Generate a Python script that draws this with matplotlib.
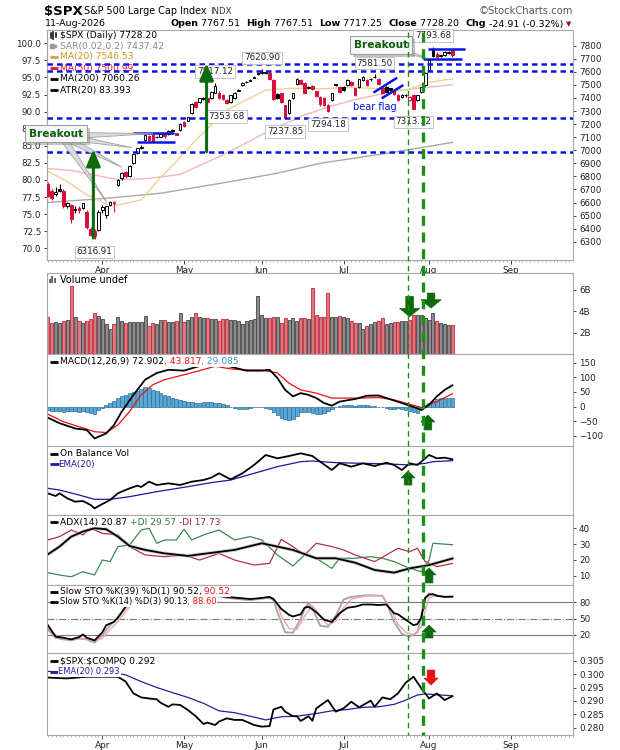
import numpy as np
import pandas as pd
import matplotlib
matplotlib.use("Agg")
import matplotlib.pyplot as plt
import matplotlib.patheffects as pe
from matplotlib.lines import Line2D
from matplotlib.ticker import FormatStrFormatter

plt.rcParams["font.family"] = ["DejaVu Sans"]
W, H = 620, 750

# ---- daily candles, index 0 = 12-Mar-2026 ----
opens = [6740, 6690, 6662, 6700, 6688, 6575, 6580, 6540, 6555, 6560,
         6530, 6400, 6385, 6390, 6543, 6505, 6581, 6595, 6734, 6785,
         6836, 6800, 6900, 6977, 7020, 7078, 7109, 7117, 7098, 7104,
         7125, 7125, 7148, 7130, 7155, 7219, 7226, 7282, 7372, 7372,
         7395, 7397, 7397, 7440, 7440, 7425, 7384, 7372, 7397, 7455,
         7499, 7520, 7532, 7556, 7582, 7590, 7592, 7594, 7537, 7432,
         7435, 7346, 7282, 7397, 7507, 7540, 7512, 7480, 7490, 7450,
         7410, 7400, 7346, 7384, 7505, 7481, 7486, 7499, 7525, 7474,
         7486, 7537, 7537, 7548, 7560, 7543, 7474, 7486, 7474, 7450,
         7423, 7410, 7423, 7384, 7423, 7384, 7448, 7499, 7614, 7767,
         7740, 7722, 7729, 7745, 7767.51]
highs = [6755, 6700, 6720, 6745, 6700, 6605, 6590, 6570, 6575, 6600,
         6540, 6410, 6395, 6540, 6580, 6575, 6612, 6615, 6780, 6830,
         6842, 6890, 6975, 7020, 7040, 7122, 7115, 7125, 7110, 7130,
         7130, 7152, 7162, 7135, 7210, 7225, 7258, 7360, 7380, 7402,
         7408, 7405, 7452, 7517.12, 7450, 7430, 7390, 7425, 7445, 7468,
         7520, 7530, 7542, 7568, 7592, 7620.90, 7605, 7600, 7545, 7440,
         7440, 7350, 7390, 7440, 7550, 7548, 7520, 7495, 7498, 7455,
         7418, 7405, 7352, 7440, 7510, 7490, 7495, 7542, 7530, 7480,
         7548, 7568, 7545, 7555, 7581.50, 7550, 7480, 7492, 7480, 7458,
         7430, 7428, 7432, 7415, 7430, 7425, 7485, 7598, 7695, 7793.68,
         7752, 7738, 7760, 7762, 7767.51]
lows = [6640, 6620, 6650, 6680, 6560, 6560, 6445, 6520, 6520, 6550,
        6400, 6345, 6316.91, 6380, 6520, 6480, 6570, 6530, 6728, 6775,
        6790, 6795, 6895, 6970, 7010, 7070, 7072, 7060, 7090, 7100,
        7095, 7120, 7140, 7115, 7150, 7175, 7220, 7275, 7322, 7365,
        7385, 7365, 7390, 7435, 7395, 7385, 7353.68, 7365, 7390, 7450,
        7495, 7515, 7528, 7550, 7578, 7585, 7585, 7540, 7385, 7395,
        7365, 7237.85, 7275, 7390, 7500, 7505, 7435, 7470, 7462, 7405,
        7340, 7335, 7294.18, 7380, 7490, 7440, 7455, 7495, 7495, 7418,
        7480, 7532, 7495, 7530, 7552, 7500, 7430, 7445, 7455, 7420,
        7380, 7400, 7405, 7375, 7313.12, 7375, 7440, 7495, 7608, 7710,
        7705, 7712, 7722, 7738, 7717.25]
closes = [6650, 6635, 6680, 6690, 6570, 6594, 6470, 6552, 6545, 6594,
          6415, 6352, 6340, 6530, 6568, 6572, 6607, 6605, 6773, 6824,
          6800, 6880, 6969, 7015, 7027, 7117, 7078, 7066, 7104, 7125,
          7108, 7148, 7155, 7120, 7200, 7185, 7252, 7354, 7328, 7397,
          7399, 7372, 7448, 7492, 7397, 7390, 7362, 7420, 7440, 7461,
          7517, 7525, 7537, 7563, 7588, 7596, 7600, 7543, 7390, 7400,
          7372, 7250, 7384, 7435, 7543, 7510, 7440, 7486, 7470, 7415,
          7354, 7346, 7300, 7435, 7499, 7448, 7461, 7537, 7499, 7423,
          7543, 7563, 7499, 7543, 7563, 7507, 7435, 7448, 7461, 7428,
          7384, 7420, 7425, 7410, 7318, 7420, 7481, 7594, 7690, 7718,
          7716, 7730, 7750, 7753.11, 7728.20]
volume_b = [3.5, 2.9, 3.0, 2.9, 3.1, 3.2, 6.4, 3.5, 3.1, 2.9,
            3.1, 3.3, 3.8, 3.6, 3.3, 2.8, 2.4, 2.8, 3.5, 3.1,
            2.9, 3.0, 3.0, 3.0, 3.0, 3.6, 2.6, 2.9, 2.8, 3.2,
            3.2, 3.0, 3.0, 3.1, 3.8, 3.0, 3.2, 3.5, 3.8, 3.5,
            3.4, 3.4, 3.3, 3.3, 3.1, 3.3, 3.3, 3.2, 3.2, 3.1,
            2.8, 3.1, 3.2, 3.3, 5.4, 3.7, 3.4, 3.4, 3.5, 3.5,
            2.9, 3.4, 3.2, 3.4, 3.1, 3.4, 3.4, 3.3, 6.2, 3.7,
            3.5, 3.5, 5.7, 3.5, 3.5, 3.6, 3.5, 3.4, 3.1, 2.9,
            2.9, 2.4, 2.6, 2.8, 3.0, 3.1, 3.4, 2.8, 2.9, 3.0,
            3.0, 3.1, 3.1, 3.2, 3.7, 3.7, 3.7, 3.4, 3.2, 3.8,
            3.1, 2.9, 2.8, 2.7, 2.7]

# overlays as (bar index, value)
ma20 = [(0, 6840), (5, 6760), (10, 6660), (15, 6590), (18, 6581), (24, 6620),
        (28, 6760), (33, 6913), (38, 7078), (46, 7308), (56, 7461), (63, 7474),
        (70, 7470), (78, 7480), (86, 7470), (92, 7460), (98, 7520), (104, 7546.53)]
ma50 = [(0, 6860), (6, 6845), (12, 6810), (18, 6775), (24, 6780), (29, 6795),
        (34, 6815), (38, 6870), (44, 6950), (50, 7040), (55, 7120), (60, 7190),
        (66, 7270), (72, 7330), (78, 7380), (84, 7420), (90, 7455), (96, 7478),
        (104, 7500.99)]
ma200 = [(0, 6600), (15, 6632), (29, 6671), (45, 6750), (59, 6824), (70, 6900),
         (89, 6985), (104, 7060.26)]

macd = [(0, -38), (3, -57), (7, -75), (10, -80), (12, -109), (15, -92), (17, -63),
        (19, -17), (22, 40), (25, 92), (28, 115), (31, 126), (35, 123), (38, 135),
        (42, 150), (46, 140), (51, 123), (55, 123), (57, 126), (59, 98), (61, 57),
        (63, 35), (65, 46), (67, 40), (69, 29), (71, 12), (73, 3), (75, 17),
        (79, 26), (82, 37), (85, 38), (88, 25), (91, 12), (95, -6), (96, -12),
        (98, 6), (100, 35), (102, 57), (104, 72.9)]
macd_signal = [(0, -26), (4, -52), (8, -69), (12, -86), (15, -89), (18, -63),
               (21, -17), (24, 40), (27, 75), (30, 92), (35, 109), (39, 123),
               (43, 138), (47, 129), (51, 125), (55, 125), (59, 115), (62, 80),
               (65, 57), (69, 46), (73, 29), (77, 29), (81, 29), (85, 31), (89, 23),
               (93, 8), (96, -3), (100, 17), (104, 43.8)]
macd_hist = [-12, -14, -15, -16, -18, -15, -14, -16, -18, -15,
             -20, -23, -25, -12, -5, 5, 12, 20, 28, 35,
             40, 45, 50, 55, 60, 66, 64, 58, 52, 46,
             40, 35, 31, 27, 23, 20, 17, 14, 12, 13,
             15, 16, 14, 12, 12, 9, 6, -2, -6, -8,
             -8, -7, -4, -2, -1, -3, -6, -10, -18, -28,
             -38, -44, -46, -42, -32, -20, -17, -18, -21, -24,
             -26, -22, -15, -8, -2, 2, 5, 6, 4, 3,
             5, 6, 5, 3, 2, -1, -3, -6, -8, -7,
             -6, -9, -12, -14, -17, -23, -8, 4, 12, 20,
             26, 29, 31, 30, 29]

obv = [(0, 65), (2, 57), (3, 65), (5, 50), (7, 40), (9, 42), (11, 30), (12, 20),
       (14, 33), (16, 45), (18, 65), (21, 80), (23, 88), (24, 84), (26, 100),
       (28, 90), (31, 95), (34, 90), (37, 100), (40, 105), (42, 112), (44, 125),
       (47, 107), (50, 125), (53, 150), (56, 180), (59, 170), (62, 177), (65, 185),
       (68, 177), (70, 160), (73, 135), (75, 155), (78, 145), (81, 155), (84, 147),
       (87, 157), (89, 150), (91, 135), (93, 155), (95, 150), (98, 180), (100, 170),
       (102, 172), (104, 167)]
obv_ema = [(0, 80), (3, 75), (8, 60), (12, 47), (16, 47), (21, 55), (28, 70),
           (36, 85), (42, 97), (47, 105), (53, 125), (59, 145), (65, 160), (68, 162),
           (74, 157), (81, 155), (88, 153), (93, 150), (97, 155), (99, 160), (104, 163)]

adx = [(0, 23.5), (3, 28.4), (6, 34.7), (9, 37.9), (12, 40), (15, 39.4), (18, 34.7),
       (21, 28.8), (25, 26.3), (30, 24.1), (36, 22.5), (41, 24.1), (48, 26.3),
       (55, 30.5), (59, 28.4), (63, 26.3), (69, 21), (74, 21), (79, 18.2),
       (84, 13.6), (89, 11.9), (93, 14.6), (98, 16.7), (104, 20.87)]
plus_di = [(0, 11.9), (3, 10.4), (6, 9.3), (9, 12.5), (12, 10.4), (14, 19.9),
           (16, 18.9), (18, 28.4), (21, 29.4), (24, 38.9), (26, 40), (28, 30.5),
           (30, 32.6), (33, 32.6), (35, 39.4), (37, 32.6), (40, 35.8), (44, 38.9),
           (48, 32.6), (52, 34.7), (55, 32.6), (59, 23.1), (63, 16.1), (66, 23.1),
           (69, 21), (73, 14.6), (75, 21), (79, 21), (83, 22), (86, 21), (89, 18.9),
           (93, 14.6), (96, 12.5), (98, 19.9), (99, 30.5), (104, 29.57)]
minus_di = [(0, 32.6), (3, 34.7), (6, 38.9), (9, 35.8), (11, 40), (14, 36.8),
            (18, 35.8), (21, 28.4), (25, 23.1), (30, 22), (35, 23.1), (39, 19.9),
            (44, 24.1), (48, 19.9), (53, 16.7), (57, 17.8), (60, 33), (63, 28.4),
            (66, 23.1), (69, 30.5), (73, 28.4), (76, 26.3), (79, 23.1), (84, 18.9),
            (87, 23.1), (90, 27.3), (93, 25.2), (95, 27.3), (97, 18.9), (100, 15.7),
            (104, 17.73)]

sto39 = [(0, 38), (2, 17), (4, 15), (6, 12), (8, 16), (9, 21), (10, 15), (12, 10),
         (14, 25), (15, 38), (17, 44), (18, 52), (20, 72), (21, 85), (23, 97),
         (30, 98), (40, 97), (46, 90), (52, 86), (55, 88), (57, 90), (58, 86),
         (60, 68), (62, 57), (63, 54), (65, 58), (66, 70), (67, 72), (69, 62),
         (71, 48), (73, 44), (75, 60), (77, 70), (79, 72), (81, 76), (83, 76),
         (85, 75), (87, 76), (88, 68), (89, 60), (90, 58), (92, 48), (94, 38),
         (95, 40), (96, 52), (97, 88), (98, 94), (99, 95), (100, 92), (102, 90),
         (104, 90.52)]
sto14 = [(0, 30), (2, 15), (4, 12), (6, 10), (8, 14), (10, 12), (12, 6), (14, 20),
         (16, 38), (18, 52), (20, 70), (22, 85), (24, 95), (30, 97), (40, 96),
         (46, 88), (52, 84), (56, 88), (58, 86), (59, 62), (61, 25), (63, 24),
         (65, 50), (66, 68), (67, 79), (68, 70), (70, 37), (72, 35), (74, 55),
         (76, 85), (78, 90), (82, 93), (86, 92), (87, 80), (89, 44), (91, 22),
         (93, 17), (95, 25), (96, 55), (97, 88), (98, 96), (100, 92), (102, 90),
         (104, 90.13)]
sto14_d = [(0, 33), (2, 20), (4, 14), (6, 11), (8, 13), (10, 13), (12, 9),
           (14, 14), (16, 30), (18, 45), (20, 63), (22, 80), (24, 92), (30, 96),
           (40, 96), (46, 90), (52, 85), (57, 88), (59, 78), (60, 55), (62, 32),
           (64, 30), (66, 55), (68, 74), (70, 55), (72, 38), (74, 45), (76, 70),
           (78, 86), (82, 92), (86, 92), (88, 70), (90, 40), (92, 25), (94, 20),
           (96, 35), (97, 65), (98, 88), (100, 93), (102, 90), (104, 88.6)]

ratio = [(0, 0.2987), (3, 0.2985), (5, 0.2984), (10, 0.2990), (18, 0.2990),
         (20, 0.2972), (22, 0.2928), (24, 0.2913), (26, 0.2909), (28, 0.2906),
         (29, 0.2893), (31, 0.2878), (32, 0.2887), (34, 0.2885), (36, 0.2866),
         (38, 0.2843), (40, 0.2814), (41, 0.2819), (43, 0.2810), (44, 0.2823),
         (46, 0.2835), (48, 0.2829), (50, 0.2829), (53, 0.2810), (55, 0.2804),
         (57, 0.2806), (58, 0.2868), (60, 0.2878), (61, 0.2860), (63, 0.2843),
         (64, 0.2843), (65, 0.2825), (67, 0.2843), (68, 0.2826), (69, 0.2872),
         (71, 0.2893), (72, 0.2903), (74, 0.2860), (76, 0.2872), (78, 0.2897),
         (80, 0.2876), (83, 0.2901), (84, 0.2878), (86, 0.2913), (88, 0.2906),
         (90, 0.2928), (92, 0.2968), (94, 0.2990), (96, 0.2947), (98, 0.2909),
         (100, 0.2928), (102, 0.2903), (104, 0.2918)]
ratio_ema = [(0, 0.3010), (10, 0.3006), (18, 0.3003), (20, 0.2997), (24, 0.2972),
             (28, 0.2950), (32, 0.2931), (36, 0.2913), (40, 0.2891), (44, 0.2863),
             (48, 0.2856), (52, 0.2843), (56, 0.2829), (60, 0.2841), (64, 0.2843),
             (69, 0.2853), (73, 0.2863), (77, 0.2868), (81, 0.2876), (85, 0.2878),
             (89, 0.2887), (92, 0.2903), (95, 0.2922), (97, 0.2926), (104, 0.2919)]

support_levels = [7658, 7610, 7249, 6988]
high_labels = [99, 55, 84, 43]
low_labels = [46, 61, 72, 94, 12]
thin_mark, thick_mark = 92.7, 96.5

holidays = pd.to_datetime(["2026-04-03", "2026-05-25", "2026-06-19", "2026-07-03", "2026-09-07"])
days = pd.bdate_range("2026-03-12", "2026-10-15")
days = days[~days.isin(holidays)]
XMAX = 135.1
month_pos = [i for i in range(1, len(days)) if days[i].month != days[i - 1].month and i < XMAX]
month_lab = [days[i].strftime("%b") for i in month_pos]

GREEN = "#0e6a0e"
BLUE = "#0a14e6"
RED = "#d4103a"

fig = plt.figure(figsize=(W / 100, H / 100), dpi=100)
rend = fig.canvas.get_renderer()


def rect(y0, y1, x0=46.7, x1=573.4):
    return [x0 / W, 1 - y1 / H, (x1 - x0) / W, (y1 - y0) / H]


def style(ax, ylim, bottom_labels=False):
    ax.set_xlim(-0.3, XMAX)
    ax.set_ylim(*ylim)
    for s in ax.spines.values():
        s.set_color("#a8a8a8")
        s.set_linewidth(0.8)
    ax.yaxis.tick_right()
    ax.tick_params(axis="y", length=2, labelsize=6.3, pad=2, colors="#222", width=0.6)
    ax.set_xticks(month_pos)
    if bottom_labels:
        ax.set_xticklabels(month_lab)
        ax.set_xticks(np.arange(0, XMAX), minor=True)
        ax.tick_params(axis="x", which="major", length=3, labelsize=6.4, pad=1.5, colors="#222", width=0.6)
        ax.tick_params(axis="x", which="minor", length=1.5, width=0.5, colors="#999")
    else:
        ax.tick_params(axis="x", length=0, labelbottom=False)


def xy(pairs):
    a = np.array(pairs, dtype=float)
    return a[:, 0], a[:, 1]


def write(target, x, y, parts, size=6.6, box=False, z=3, va="center"):
    for s, color, weight in parts:
        t = target.text(x / W, 1 - y / H, s, transform=fig.transFigure, fontsize=size,
                        color=color, fontweight=weight, va=va, ha="left", zorder=z)
        if box:
            t.set_bbox(dict(fc="white", ec="none", pad=0.4))
        x += t.get_window_extent(rend).width
    return x


def dash(ax, y, color, x0=49.5, x1=57.5):
    ax.plot([x0 / W, x1 / W], [1 - y / H] * 2, color=color, lw=2, transform=fig.transFigure,
            clip_on=False, solid_capstyle="butt", zorder=3)


def block_arrow(ax, i, tail, tip, color, big=False):
    hw = 1.45 if big else 1.0
    hl = 0.6 if big else 0.5
    ax.annotate("", xy=(i, tip), xytext=(i, tail), annotation_clip=False, zorder=8,
                arrowprops=dict(arrowstyle=f"simple,head_length={hl},head_width={hw},tail_width=0.55",
                                fc=color, ec=color, lw=0.5, mutation_scale=10, shrinkA=0, shrinkB=0))


o, hi, lo, c = map(np.array, (opens, highs, lows, closes))
idx = np.arange(len(c))
prev = np.r_[o[0], c[:-1]]
down = c < prev
edge = np.where(down, RED, "black")
body_fill = [e if cc < oo else "white" for e, cc, oo in zip(edge, c, o)]

# ---------------- price panel ----------------
ax = fig.add_axes(rect(29.5, 260))
style(ax, (6160, 7924), bottom_labels=True)
ax.set_yticks(range(6300, 7801, 100))
to_left = lambda p: 99.649 - (7800 - p) * 0.019128
from_left = lambda v: 7800 - (99.649 - v) / 0.019128
sec = ax.secondary_yaxis("left", functions=(to_left, from_left))
sec.set_yticks(np.arange(70, 100.1, 2.5))
sec.yaxis.set_major_formatter(FormatStrFormatter("%.1f"))
sec.tick_params(length=2, labelsize=6.3, pad=2, colors="#222", width=0.6)
sec.spines["left"].set_color("#a8a8a8")

ax.plot(*xy(ma200), color="#a8a8a8", lw=1.0, zorder=2)
ax.plot(*xy(ma50), color="#f3b8b8", lw=1.0, zorder=2)
ax.plot(*xy(ma20), color="#f0cf96", lw=1.0, zorder=2)

ax.vlines(idx, lo, hi, colors=edge, lw=0.8, zorder=3)
ax.bar(idx, np.maximum(np.abs(c - o), 2), bottom=np.minimum(o, c), width=0.68,
       color=body_fill, edgecolor=edge, lw=0.7, zorder=3)

for lvl in support_levels:
    ax.axhline(lvl, color=BLUE, lw=1.8, ls=(0, (2.2, 1.6)), zorder=4)

# short trend / range lines
for (x0, x1), (y0, y1) in [((21.9, 32.3), (7130, 7130)), ((22.8, 32.7), (7066, 7066)),
                           ((97.6, 107.3), (7772, 7772)), ((96.5, 106.4), (7702, 7702)),
                           ((83.7, 89.8), (7441, 7555)), ((85.8, 91.4), (7397, 7499))]:
    ax.plot([x0, x1], [y0, y1], color=BLUE, lw=1.8, zorder=5, solid_capstyle="butt")
ax.text(84.1, 7334, "bear flag", color=BLUE, fontsize=7, ha="center", va="center", zorder=5)

for i in high_labels + low_labels:
    up = i in high_labels
    v = hi[i] if up else lo[i]
    ax.annotate(f"{v:.2f}", xy=(i, v), xytext=(0, 8 if up else -9), textcoords="offset points",
                ha="center", va="center", fontsize=6.3, color="#222", zorder=6,
                bbox=dict(boxstyle="square,pad=0.2", fc="white", ec="#c4c4c4", lw=0.7))

# big green arrows
for i, tail, tip in [(11.7, 6328, 7008), (40.8, 6989, 7665)]:
    ax.annotate("", xy=(i, tip), xytext=(i, tail), zorder=7,
                arrowprops=dict(arrowstyle="-|>,head_length=1.0,head_width=0.42", lw=2.2,
                                color=GREEN, mutation_scale=10, shrinkA=0, shrinkB=0))

# "Breakout" call-outs
wedge = dict(arrowstyle="wedge,tail_width=0.5", fc="#dcdcdc", ec="#a0a0a0", lw=0.6,
             mutation_scale=10, shrinkA=0, shrinkB=0)
for tgt in [(27, 7128), (21.5, 7020), (19, 6870), (15.2, 6600)]:
    ax.annotate("", xy=tgt, xytext=(3.5, 7110), arrowprops=wedge, zorder=6, annotation_clip=False)
ax.annotate("", xy=(97.3, 7706), xytext=(88, 7790), arrowprops=wedge, zorder=6, annotation_clip=False)
for cx, cy in [(2.1, 7128), (85.7, 7805)]:
    t = ax.text(cx, cy, "Breakout", color="#0b5e0b", fontsize=7.6, fontweight="bold",
                ha="center", va="center", zorder=7, clip_on=False,
                bbox=dict(boxstyle="square,pad=0.35", fc="#f6f6f6", ec="#9a9a9a", lw=0.7))
    t.get_bbox_patch().set_path_effects([pe.withSimplePatchShadow(offset=(2, -2), shadow_rgbFace="#888", alpha=0.5)])

# price legend
for k, (parts, col) in enumerate([
        ([("$SPX (Daily) 7728.20", "black", "normal")], None),
        ([("SAR(0.02,0.2) 7437.42", "#8a8a8a", "normal")], None),
        ([("MA(20) 7546.53", "#d4941e", "normal")], "#d4a040"),
        ([("MA(50) 7500.99", "#e8103a", "normal")], "#e8103a"),
        ([("MA(200) 7060.26", "black", "normal")], "black"),
        ([("ATR(20) 83.393", "black", "normal")], "black")]):
    y = 35 + 11 * k
    write(ax, 59.5, y, parts, z=2)
    if col:
        dash(ax, y, col)
for dx, h in [(50.5, 5), (53, 7), (55.5, 4)]:
    ax.plot([dx / W] * 2, [1 - (35 + h / 2) / H, 1 - (35 - h / 2) / H], color="black", lw=1.1,
            transform=fig.transFigure, clip_on=False)
ax.plot([51.5 / W], [1 - 46 / H], marker="s", ms=2.5, color="#9a9a9a", transform=fig.transFigure, clip_on=False)
ax.plot([55 / W], [1 - 46 / H], marker="s", ms=1.5, color="#9a9a9a", transform=fig.transFigure, clip_on=False)

# ---------------- volume ----------------
axv = fig.add_axes(rect(273.3, 354.3))
style(axv, (0, 7.54))
axv.set_yticks([2, 4, 6])
axv.set_yticklabels(["2B", "4B", "6B"])
axv.bar(idx, volume_b, width=0.78, color=np.where(down, "#d87a80", "#8c8c8c"),
        edgecolor=np.where(down, "#c0283a", "#444444"), lw=0.6)
for dx, h in [(50, 4), (52.5, 7), (55, 5.5)]:
    axv.plot([dx / W] * 2, [1 - 283 / H, 1 - (283 - h) / H], color="#666", lw=1.4,
             transform=fig.transFigure, clip_on=False, solid_capstyle="butt")
write(axv, 59.5, 280, [("Volume undef", "black", "normal")], size=7)
block_arrow(axv, 93.0, 5.4, 3.5, GREEN, big=True)
block_arrow(axv, 98.5, 5.7, 4.3, GREEN, big=True)

# ---------------- MACD ----------------
axm = fig.add_axes(rect(354.3, 446))
style(axm, (-135, 179))
axm.set_yticks([-100, -50, 0, 50, 100, 150])
axm.bar(idx, macd_hist, width=0.9, color="#5aa8d6", edgecolor="#2a6f9c", lw=0.5)
axm.plot(*xy(macd_signal), color="#ee1111", lw=0.9)
axm.plot(*xy(macd), color="black", lw=1.3)
dash(axm, 361.7, "black")
write(axm, 59.5, 361.7, [("MACD(12,26,9) 72.902", "black", "normal"), (", 43.817", "#ee1111", "normal"),
                         (", 29.085", "#3d8fc4", "normal")], box=True, z=4)
block_arrow(axm, 97.7, -80, -29, GREEN)

# ---------------- OBV ----------------
axo = fig.add_axes(rect(446, 515))
style(axo, (0, 207))
axo.set_yticks([])
axo.plot(*xy(obv_ema), color="#1a1a9a", lw=0.9)
axo.plot(*xy(obv), color="black", lw=1.3)
dash(axo, 454, "black")
write(axo, 59.5, 454, [("On Balance Vol", "black", "normal")])
dash(axo, 464.3, "#1a1a9a", x1=58.5)
write(axo, 58.5, 464.3, [("EMA(20)", "#1a1a9a", "normal")], size=6.2)
block_arrow(axo, 92.6, 90, 132, GREEN)

# ---------------- ADX ----------------
axa = fig.add_axes(rect(515, 584.5))
style(axa, (4.4, 48.4))
axa.set_yticks([10, 20, 30, 40])
axa.plot(*xy(plus_di), color="#3a8a50", lw=0.9)
axa.plot(*xy(minus_di), color="#b03050", lw=0.9)
axa.plot(*xy(adx), color="#bbbbbb", lw=2.6, alpha=0.7)
axa.plot(*xy(adx), color="black", lw=1.3)
dash(axa, 522.3, "black")
write(axa, 59.5, 522.3, [("ADX(14) 20.87", "black", "normal"), (" +DI 29.57", "#2e7d44", "normal"),
                         (" -DI 17.73", "#a02848", "normal")], box=True, z=4)
block_arrow(axa, 98.0, 5.4, 14.9, GREEN)

# ---------------- Slow stochastics ----------------
axs = fig.add_axes(rect(584.5, 653.3))
style(axs, (-13.6, 112.7))
axs.set_yticks([20, 50, 80])
axs.axhline(80, color="#777", lw=0.8)
axs.axhline(20, color="#777", lw=0.8)
axs.axhline(50, color="#777", lw=0.8, ls="-.")
axs.plot(*xy(sto14), color="#a8a8a8", lw=1.4)
axs.plot(*xy(sto14_d), color="#f2a4a4", lw=1.0)
axs.plot(*xy(sto39), color="black", lw=1.3)
dash(axs, 591.7, "black")
write(axs, 59.5, 591.7, [("Slow STO %K(39) %D(1) 90.52,", "black", "normal"), (" 90.52", "#ee1111", "normal")],
      box=True, z=4)
dash(axs, 601.7, "black")
write(axs, 59.5, 601.7, [("Slow STO %K(14) %D(3) 90.13,", "black", "normal"), (" 88.60", "#ee1111", "normal")],
      size=6.0, box=True, z=4)
block_arrow(axs, 98.0, 14.5, 38.3, GREEN)

# ---------------- $SPX:$COMPQ ----------------
axr = fig.add_axes(rect(653.3, 735))
style(axr, (0.27728, 0.30776), bottom_labels=True)
axr.set_yticks([0.280, 0.285, 0.290, 0.295, 0.300, 0.305])
axr.yaxis.set_major_formatter(FormatStrFormatter("%.3f"))
axr.plot(*xy(ratio_ema), color="#2020a0", lw=0.9)
axr.plot(*xy(ratio), color="black", lw=1.3)
dash(axr, 660.7, "black")
write(axr, 59.5, 660.7, [(r"\$SPX:\$COMPQ 0.292", "black", "normal")], box=True, z=4)
dash(axr, 671.7, "#2020a0", x1=58.5)
write(axr, 58.5, 671.7, [("EMA(20) 0.293", "#2020a0", "normal")], size=6.0, box=True, z=4)
block_arrow(axr, 98.5, 0.3015, 0.2959, "#e81010")

# ---------------- vertical green markers across all panels ----------------
inv = fig.transFigure.inverted()
for pos, lw, pat in [(thin_mark, 1.0, (4, 3)), (thick_mark, 2.4, (3, 2))]:
    xf = inv.transform(ax.transData.transform((pos, 7000)))[0]
    fig.add_artist(Line2D([xf, xf], [1 - 31.5 / H, 1 - 735 / H], color="#1a901a", lw=lw,
                          ls=(0, pat), transform=fig.transFigure, zorder=5))

# ---------------- header ----------------
write(fig, 44, 14.5, [("$SPX", "black", "bold")], size=9.5, va="baseline")
write(fig, 84, 14.5, [("S&P 500 Large Cap Index", "black", "normal")], size=6.9, va="baseline")
write(fig, 210, 14.5, [("INDX", "#333", "normal")], size=6.2, va="baseline")
fig.text(573 / W, 1 - 14.5 / H, "\u00a9StockCharts.com", fontsize=7.2, color="#555",
         ha="right", va="baseline")
write(fig, 44.5, 26.5, [("11-Aug-2026", "black", "normal")], size=6.8, va="baseline")
stats = [("Open", "bold"), (" 7767.51  ", "normal"), ("High", "bold"), (" 7767.51  ", "normal"),
         ("Low", "bold"), (" 7717.25  ", "normal"), ("Close", "bold"), (" 7728.20  ", "normal"),
         ("Chg", "bold"), (" -24.91 (-0.32%)", "normal")]
tmp = [fig.text(0, 0, s, fontsize=6.8, fontweight=w) for s, w in stats]
total = sum(t.get_window_extent(rend).width for t in tmp)
for t in tmp:
    t.remove()
end = write(fig, 563 - total, 26.5, [(s, "black", w) for s, w in stats], size=6.8, va="baseline")
fig.text((end + 3) / W, 1 - 26.5 / H, "\u25bc", fontsize=5, color="#a01030", ha="left", va="baseline")

fig.savefig("out.png", dpi=100)
